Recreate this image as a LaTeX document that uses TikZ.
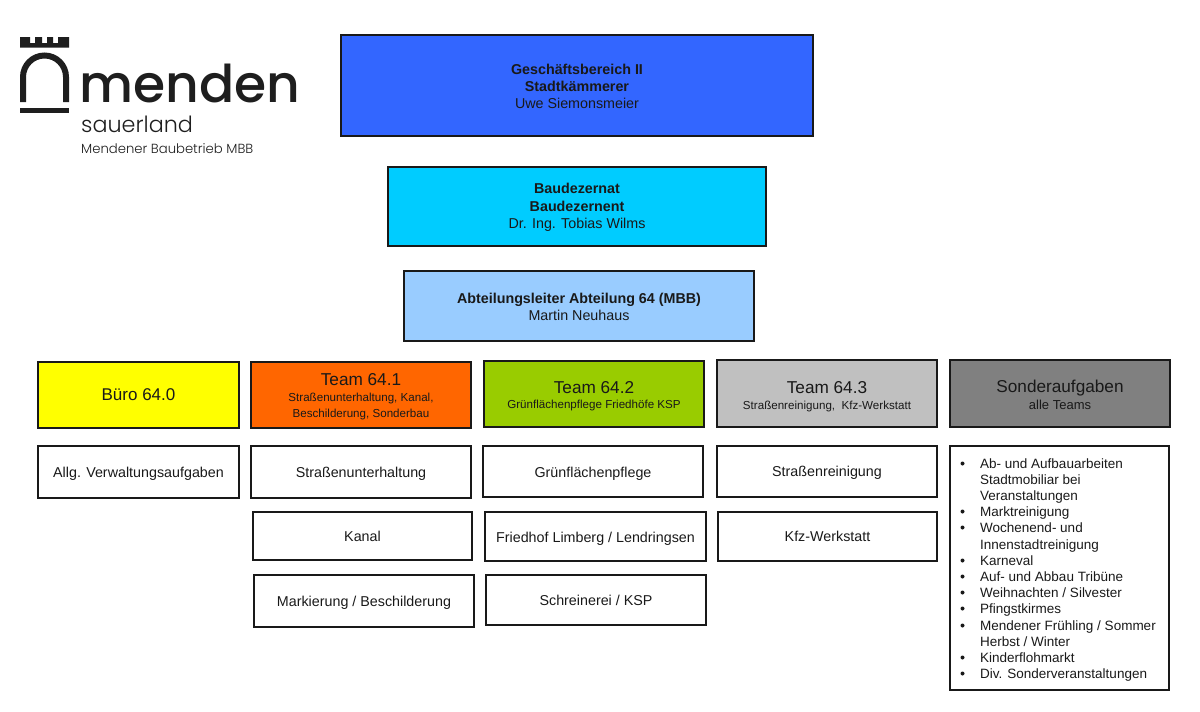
\documentclass[tikz,border=0pt]{standalone}
\usepackage{fontspec}
\setmainfont{Liberation Sans}
\newfontfamily\logofont{Poppins Light}
\newfontfamily\logowide{Poppins Medium}
\newcommand{\fs}[1]{\fontsize{#1}{#1}\selectfont}
\newcommand{\dn}[1]{\rule{0pt}{#1pt}}
\tikzset{
  orgbox/.style={draw=black!90,line width=1.3pt,anchor=north west,inner sep=0pt,outer sep=0pt,align=center,text=black!90,font=\fs{14.3}},
  big/.style={font=\fs{17}},
}
\newcommand{\obox}[7][]{\node[orgbox,#1,minimum width=#4pt-#2pt,minimum height=#5pt-#3pt] (#6) at (#2,#3) {#7};}
\definecolor{cA}{RGB}{51,102,255}
\definecolor{cB}{RGB}{0,204,255}
\definecolor{cC}{RGB}{153,204,255}
\definecolor{cY}{RGB}{255,255,0}
\definecolor{cO}{RGB}{255,102,0}
\definecolor{cG}{RGB}{153,204,0}
\definecolor{cL}{RGB}{192,192,192}
\definecolor{cD}{RGB}{128,128,128}
\definecolor{logo}{RGB}{30,30,30}
\begin{document}
\begin{tikzpicture}[x=1pt,y=-1pt]
\useasboundingbox (0,0) rectangle (1200,712);
% logo
\fill[logo] (20,37) -- (30,37) -- (30,43) -- (35,43) -- (35,37) -- (42,37) -- (42,43) -- (47,43) -- (47,37) -- (53,37) -- (53,43) -- (58,43) -- (58,37) -- (69,37) -- (69,47.5) -- (20,47.5) -- cycle;
\draw[logo,line width=6pt] (23,102) -- (23,77) arc[start angle=180,end angle=0,x radius=21.5,y radius=-21.5] -- (66,102);
\fill[logo] (20,108) rectangle (69,113);
\node[anchor=base west,inner sep=0pt,text=logo,font=\logowide\fs{52}] (lm) at (79,102) {menden};
\node[anchor=base west,inner sep=0pt,text=logo,font=\logofont\fs{22.3}] (ls) at (81,132) {sauerland};
\node[anchor=base west,inner sep=0pt,text=logo,font=\logofont\fs{13.2}] (lb) at (81,153) {Mendener Baubetrieb MBB};
% management
\obox[fill=cA]{341}{35}{813}{136}{gb}{\dn{12.3}\textbf{Geschäftsbereich II}\\[3pt]\textbf{Stadtkämmerer}\\[3pt]Uwe Siemonsmeier}
\obox[fill=cB]{388}{167}{766}{246}{bz}{\dn{12.3}\textbf{Baudezernat}\\[3.5pt]\textbf{Baudezernent}\\[3.5pt]Dr. Ing. Tobias Wilms}
\obox[fill=cC]{404}{271}{754}{341}{al}{\dn{12.3}\textbf{Abteilungsleiter Abteilung 64 (MBB)}\\[3pt]Martin Neuhaus}
% teams
\obox[fill=cY,big]{38}{362}{239}{428}{t0}{Büro 64.0}
\obox[fill=cO]{251}{362}{471}{428}{t1}{{\dn{15.3}\fs{17.2}Team 64.1}\\[1pt]{\fs{11.6}Straßenunterhaltung, Kanal,}\\[1.5pt]{\fs{11.6}Beschilderung, Sonderbau}}
\obox[fill=cG]{484}{361}{704}{427}{t2}{{\dn{16.3}\fs{17.2}Team 64.2}\\[1pt]{\fs{11.6}Grünflächenpflege Friedhöfe KSP}}
\obox[fill=cL]{717}{360}{937}{427}{t3}{{\dn{18.3}\fs{17.2}Team 64.3}\\[1pt]{\fs{11.6}Straßenreinigung,\ \ Kfz-Werkstatt}}
\obox[fill=cD]{950}{360}{1170}{427}{t4}{{\dn{15.3}\fs{17.2}Sonderaufgaben}\\[2pt]{\fs{13}alle Teams}}
% tasks
\obox{38}{446}{239}{498}{a0}{\dn{14.3}Allg. Verwaltungsaufgaben}
\obox{251}{446}{471}{498}{a1}{\dn{14.3}Straßenunterhaltung}
\obox{253}{512}{472}{560}{a2}{Kanal}
\obox{254}{575}{474}{627}{a3}{\dn{14.3}Markierung / Beschilderung}
\obox{483}{446}{703}{497}{b1}{\dn{14.3}Grünflächenpflege}
\obox{485}{512}{706}{561}{b2}{\dn{14.3}Friedhof Limberg / Lendringsen}
\obox{486}{575}{706}{625}{b3}{Schreinerei / KSP}
\obox{717}{446}{937}{497}{c1}{\dn{12.3}Straßenreinigung}
\obox{718}{512}{937}{561}{c2}{Kfz-Werkstatt}
\obox{950}{446}{1169}{690}{d1}{}
\foreach \y/\b/\t in {
 468/1/{Ab- und Aufbauarbeiten},
 484/0/{Stadtmobiliar bei},
 500/0/{Veranstaltungen},
 516/1/{Marktreinigung},
 532/1/{Wochenend- und},
 549/0/{Innenstadtreinigung},
 565/1/{Karneval},
 581/1/{Auf- und Abbau Tribüne},
 597/1/{Weihnachten / Silvester},
 613/1/{Pfingstkirmes},
 630/1/{Mendener Frühling / Sommer},
 646/0/{Herbst / Winter},
 662/1/{Kinderflohmarkt},
 678/1/{Div. Sonderveranstaltungen}}{
  \node[anchor=base west,inner sep=0pt,text=black!90,font=\fs{13.5}] at (980,\y) {\t};
  \ifnum\b=1 \fill[black!90] (962.5,\y-4.5) circle[radius=2pt]; \fi
}
\end{tikzpicture}
\end{document}
